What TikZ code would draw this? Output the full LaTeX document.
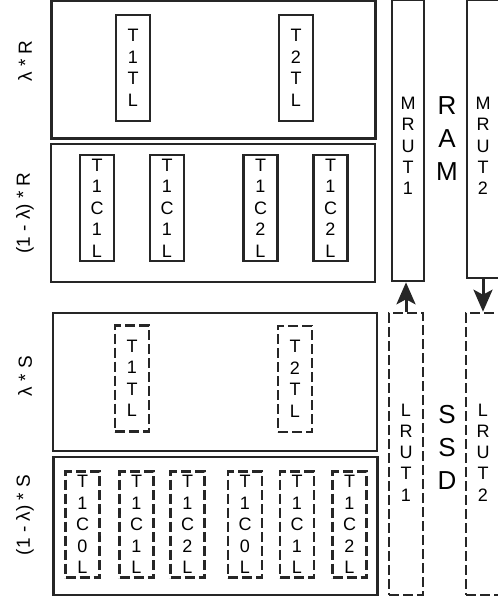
\documentclass[tikz,border=0pt]{standalone}
\usepackage{fontspec}
\setmainfont{Liberation Sans}
\usetikzlibrary{arrows.meta,positioning}
\tikzset{
  tierframe/.style={
    rectangle,
    draw=black!85,
    line width=2.4pt,
    minimum width=324pt,
    minimum height=138pt,
    inner sep=0pt
  },
  listbox/.style={
    rectangle,
    draw=black!85,
    line width=2.6pt,
    align=center,
    minimum width=34pt,
    minimum height=106pt,
    inner sep=0pt,
    font=\fontsize{18}{21.5}\selectfont
  },
  ssdlist/.style={listbox, dash pattern=on 10pt off 4pt},
  mrubox/.style={
    rectangle,
    draw=black!85,
    line width=2.6pt,
    minimum width=32pt,
    inner sep=0pt
  },
  lrubox/.style={mrubox, minimum width=34pt, dash pattern=on 10pt off 4pt},
  colstack/.style={align=center, inner sep=0pt, font=\fontsize{18}{21.25}\selectfont},
  tierlabel/.style={rotate=90, inner sep=0pt, font=\fontsize{19}{22}\selectfont},
  devlabel/.style={align=center, inner sep=0pt, font=\fontsize{26}{33}\selectfont},
  moveline/.style={-{Stealth[length=22pt,width=19pt,inset=5pt]}, line width=3pt, draw=black!85}
}

\begin{document}
\begin{tikzpicture}[x=1pt,y=-1pt]
  \useasboundingbox (0,0) rectangle (498,600);
  \node[tierframe] (ramtl) at (213.5,69.5) {};
  \node[tierframe] (ramcl) at (213,213) {};
  \node[tierframe] (ssdtl) at (215,382) {};
  \node[tierframe] (ssdcl) at (215.5,526) {};
  \node[tierlabel] (lamr) at (25,61) {λ * R};
  \node[tierlabel] (oner) at (25,213) {(1 - λ) * R};
  \node[tierlabel] (lams) at (25,376) {λ * S};
  \node[tierlabel] (ones) at (25,515) {(1 - λ) * S};
  \node[listbox] (rt1) at (133,68) {T\\1\\T\\L};
  \node[listbox] (rt2) at (296,68) {T\\2\\T\\L};
  \node[listbox] (rc1a) at (97,208) {T\\1\\C\\1\\L};
  \node[listbox] (rc1b) at (167,208) {T\\1\\C\\1\\L};
  \node[listbox] (rc2a) at (260.5,208) {T\\1\\C\\2\\L};
  \node[listbox] (rc2b) at (330.5,208) {T\\1\\C\\2\\L};
  \node[ssdlist] (st1) at (132,378.5) {T\\1\\T\\L};
  \node[ssdlist] (st2) at (295,379) {T\\2\\T\\L};
  \node[ssdlist] (sc0a) at (82.5,524.5) {T\\1\\C\\0\\L};
  \node[ssdlist] (sc1a) at (136.5,524.5) {T\\1\\C\\1\\L};
  \node[ssdlist] (sc2a) at (187.5,524.5) {T\\1\\C\\2\\L};
  \node[ssdlist] (sc0b) at (245,524.5) {T\\1\\C\\0\\L};
  \node[ssdlist] (sc1b) at (297,524.5) {T\\1\\C\\1\\L};
  \node[ssdlist] (sc2b) at (349.5,524.5) {T\\1\\C\\2\\L};
  \node[mrubox, minimum height=281pt] (mrut1) at (408,140.5) {};
  \node[mrubox, minimum height=278pt] (mrut2) at (483,139) {};
  \node[lrubox, minimum height=282pt] (lrut1) at (406,454) {};
  \node[lrubox, minimum height=282pt] (lrut2) at (483,454) {};
  \node[colstack] (mrut1txt) at ([yshift=-5.5pt]mrut1.center) {M\\R\\U\\T\\1};
  \node[colstack] (mrut2txt) at ([yshift=-7pt]mrut2.center) {M\\R\\U\\T\\2};
  \node[colstack] (lrut1txt) at ([yshift=1.5pt]lrut1.center) {L\\R\\U\\T\\1};
  \node[colstack] (lrut2txt) at ([yshift=1.5pt]lrut2.center) {L\\R\\U\\T\\2};
  \node[devlabel] (ram) at (447,139) {R\\A\\M};
  \node[devlabel] (ssd) at (447,447) {S\\S\\D};
  \draw[moveline] (lrut1.north) -- (lrut1.north |- mrut1.south);
  \draw[moveline] (mrut2.south) -- (mrut2.south |- lrut2.north);
\end{tikzpicture}
\end{document}
